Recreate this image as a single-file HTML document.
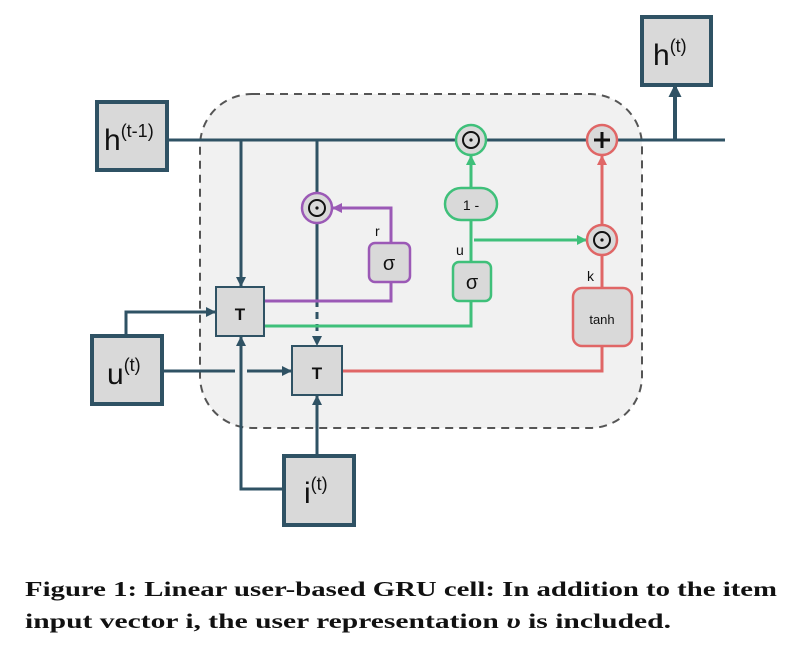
<!DOCTYPE html>
<html><head><meta charset="utf-8"><style>
html,body{margin:0;padding:0;background:#fff;width:792px;height:654px;overflow:hidden}
svg{display:block}
</style></head><body>
<svg width="792" height="654" viewBox="0 0 792 654" xmlns="http://www.w3.org/2000/svg">
<defs>
<marker id="ad" markerWidth="10" markerHeight="10" refX="9" refY="5" orient="auto" markerUnits="userSpaceOnUse"><path d="M0,0 L10,5 L0,10 z" fill="#2f5264"/></marker>
<marker id="ag" markerWidth="10" markerHeight="10" refX="9" refY="5" orient="auto" markerUnits="userSpaceOnUse"><path d="M0,0 L10,5 L0,10 z" fill="#3fc07a"/></marker>
<marker id="ap" markerWidth="10" markerHeight="10" refX="9" refY="5" orient="auto" markerUnits="userSpaceOnUse"><path d="M0,0 L10,5 L0,10 z" fill="#9b59b6"/></marker>
<marker id="ar" markerWidth="10" markerHeight="10" refX="9" refY="5" orient="auto" markerUnits="userSpaceOnUse"><path d="M0,0 L10,5 L0,10 z" fill="#e06666"/></marker>
<marker id="ab" markerWidth="13" markerHeight="13" refX="11" refY="6.5" orient="auto" markerUnits="userSpaceOnUse"><path d="M0,0 L13,6.5 L0,13 z" fill="#2f5264"/></marker>
</defs>
<rect x="200" y="94" width="442" height="334" rx="52" fill="#f1f1f1" stroke="#555" stroke-width="2" stroke-dasharray="8,6"/>
<g fill="none" stroke-width="3">
<path d="M167,140 H725" stroke="#2f5264"/>
<path d="M675,140 V86" stroke="#2f5264" stroke-width="4" marker-end="url(#ab)"/>
<path d="M241,140 V286" stroke="#2f5264" marker-end="url(#ad)"/>
<path d="M317,140 V193" stroke="#2f5264"/>
<path d="M317,223 V300" stroke="#2f5264"/>
<path d="M317,300 V345" stroke="#2f5264" stroke-dasharray="7,5" marker-end="url(#ad)"/>
<path d="M126,335 V312 H215" stroke="#2f5264" marker-end="url(#ad)"/>
<path d="M162,371 H235 M247,371 H291" stroke="#2f5264" marker-end="url(#ad)"/>
<path d="M283,489 H241 V337" stroke="#2f5264" marker-end="url(#ad)"/>
<path d="M317,455 V396" stroke="#2f5264" marker-end="url(#ad)"/>
<path d="M264,301 H391 V282 M391,243 V208 H333" stroke="#9b59b6" marker-end="url(#ap)"/>
<path d="M264,326 H471 V301" stroke="#3fc07a"/>
<path d="M471,262 V220" stroke="#3fc07a"/>
<path d="M471,188 V156" stroke="#3fc07a" marker-end="url(#ag)"/>
<path d="M474,240 H586" stroke="#3fc07a" marker-end="url(#ag)"/>
<path d="M342,371 H602 V346 M602,288 V256" stroke="#e06666"/>
<path d="M602,224 V156" stroke="#e06666" marker-end="url(#ar)"/>
</g>
<g fill="#d9d9d9" stroke="#2f5264" stroke-width="4">
<rect x="97" y="102" width="70" height="68"/>
<rect x="642" y="17" width="69" height="68"/>
<rect x="92" y="336" width="70" height="68"/>
<rect x="284" y="456" width="70" height="69"/>
</g>
<g fill="#d9d9d9" stroke="#2f5264" stroke-width="2">
<rect x="216" y="287" width="48" height="49"/>
<rect x="292" y="346" width="50" height="49"/>
</g>
<rect x="369" y="243" width="41" height="39" rx="6" fill="#d9d9d9" stroke="#9b59b6" stroke-width="2.5"/>
<rect x="453" y="262" width="38" height="39" rx="6" fill="#d9d9d9" stroke="#3fc07a" stroke-width="2.5"/>
<rect x="445" y="188" width="52" height="32" rx="16" fill="#d9d9d9" stroke="#3fc07a" stroke-width="2.5"/>
<rect x="573" y="288" width="59" height="58" rx="9" fill="#d9d9d9" stroke="#e06666" stroke-width="2.5"/>
<circle cx="317" cy="208" r="15" fill="#d9d9d9" stroke="#9b59b6" stroke-width="2.5"/>
<circle cx="471" cy="140" r="15" fill="#d9d9d9" stroke="#3fc07a" stroke-width="2.5"/>
<circle cx="602" cy="140" r="15" fill="#d9d9d9" stroke="#e06666" stroke-width="2.5"/>
<circle cx="602" cy="240" r="15" fill="#d9d9d9" stroke="#e06666" stroke-width="2.5"/>
<g fill="none" stroke="#111" stroke-width="2">
<circle cx="317" cy="208" r="8"/><circle cx="471" cy="140" r="8"/><circle cx="602" cy="240" r="8"/>
</g>
<g fill="#111"><circle cx="317" cy="208" r="1.6"/><circle cx="471" cy="140" r="1.6"/><circle cx="602" cy="240" r="1.6"/></g>
<path d="M602,132 V148 M594,140 H610" stroke="#111" stroke-width="3"/>
<g font-family="'Liberation Sans', 'DejaVu Sans', sans-serif" fill="#111">
<text x="104" y="150" font-size="30">h<tspan font-size="18" dy="-13">(t-1)</tspan></text>
<text x="653" y="65" font-size="30">h<tspan font-size="18" dy="-13">(t)</tspan></text>
<text x="107" y="384" font-size="30">u<tspan font-size="18" dy="-13">(t)</tspan></text>
<text x="304" y="503" font-size="30">i<tspan font-size="18" dy="-13">(t)</tspan></text>
<text x="240" y="320" font-size="17" font-weight="bold" text-anchor="middle">T</text>
<text x="317" y="379" font-size="17" font-weight="bold" text-anchor="middle">T</text>
<text x="389" y="270" font-size="20" text-anchor="middle">σ</text>
<text x="472" y="289" font-size="20" text-anchor="middle">σ</text>
<text x="471" y="210" font-size="14" text-anchor="middle">1 -</text>
<text x="602" y="324" font-size="13" text-anchor="middle">tanh</text>
<text x="375" y="236" font-size="14">r</text>
<text x="456" y="255" font-size="14">u</text>
<text x="587" y="281" font-size="14">k</text>
</g>
<g font-family="'Liberation Serif', serif" font-weight="bold" font-size="21" fill="#111">
<text x="25" y="596" textLength="752" lengthAdjust="spacingAndGlyphs">Figure 1: Linear user-based GRU cell: In addition to the item</text>
<text x="25" y="628" textLength="646" lengthAdjust="spacingAndGlyphs">input vector i, the user representation <tspan font-style="italic">υ</tspan> is included.</text>
</g>
</svg>
</body></html>
